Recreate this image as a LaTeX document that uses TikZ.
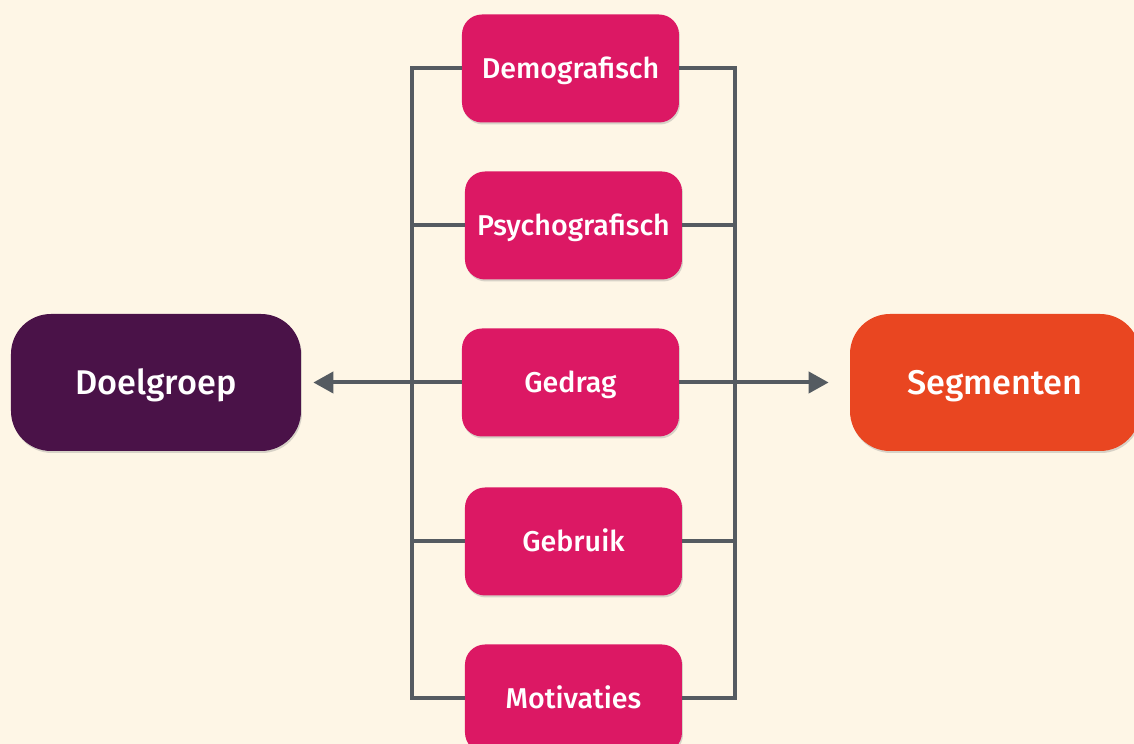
\documentclass[tikz,border=0pt]{standalone}
\usepackage{fontspec}
\setmainfont{Fira Sans Medium}
\usetikzlibrary{positioning,arrows.meta,shadows}

\definecolor{bgcream}{HTML}{FEF6E6}
\definecolor{crimson}{HTML}{DC1864}
\definecolor{plum}{HTML}{4A1248}
\definecolor{flame}{HTML}{E94621}
\definecolor{slate}{HTML}{555B61}

\begin{document}
\begin{tikzpicture}[node distance=3.14cm,on grid,
  crit/.style={rectangle,rounded corners=0.4cm,fill=crimson,text=white,
    minimum width=4.34cm,minimum height=2.16cm,
    font=\fontsize{16.3}{19}\selectfont,text height=11.2pt,text depth=0pt,
    drop shadow={shadow xshift=0.02cm,shadow yshift=-0.04cm,opacity=0.3}},
  goal/.style={rectangle,rounded corners=0.8cm,text=white,
    minimum width=5.8cm,minimum height=2.74cm,
    font=\fontsize{19.5}{23}\selectfont,text height=13.4pt,text depth=0pt,
    drop shadow={shadow xshift=0.02cm,shadow yshift=-0.04cm,opacity=0.3}},
  link/.style={draw=slate,line width=0.08cm},
  tip/.style={-{Triangle[length=0.4cm,width=0.42cm]}}]
 \clip (-11.41,7.65) rectangle (11.27,-7.23);
 \fill[bgcream] (-11.41,7.65) rectangle (11.27,-7.23);
 % criteria
 \node[crit] (ged) {Gedrag};
 \node[crit] (psy) [above=of ged,xshift=0.06cm] {Psychografisch};
 \node[crit] (dem) [above=of psy,xshift=-0.06cm] {Demografisch};
 \node[crit] (geb) [below=of ged,xshift=0.06cm,yshift=-0.04cm] {Gebruik};
 \node[crit] (mot) [below=of geb] {Motivaties};
 % ends
 \node[goal,fill=plum] (doel) [left=8.29cm of ged] {Doelgroep};
 \node[goal,fill=flame] (seg) [right=8.49cm of ged] {Segmenten};
 % rails
 \coordinate (ltop) at (-3.17,0 |- dem);
 \coordinate (lbot) at (-3.17,0 |- mot);
 \coordinate (rtop) at (3.29,0 |- dem);
 \coordinate (rbot) at (3.29,0 |- mot);
 \draw[link] (dem.west) -- (ltop) -- (lbot) -- (mot.west);
 \draw[link] (dem.east) -- (rtop) -- (rbot) -- (mot.east);
 \draw[link] (psy.west) -- (psy.west -| ltop);
 \draw[link] (psy.east) -- (psy.east -| rtop);
 \draw[link] (geb.west) -- (geb.west -| ltop);
 \draw[link] (geb.east) -- (geb.east -| rtop);
 \draw[link,tip,shorten >=0.24cm] (ged.west) -- (doel.east);
 \draw[link,tip,shorten >=0.42cm] (ged.east) -- (seg.west);
\end{tikzpicture}
\end{document}
